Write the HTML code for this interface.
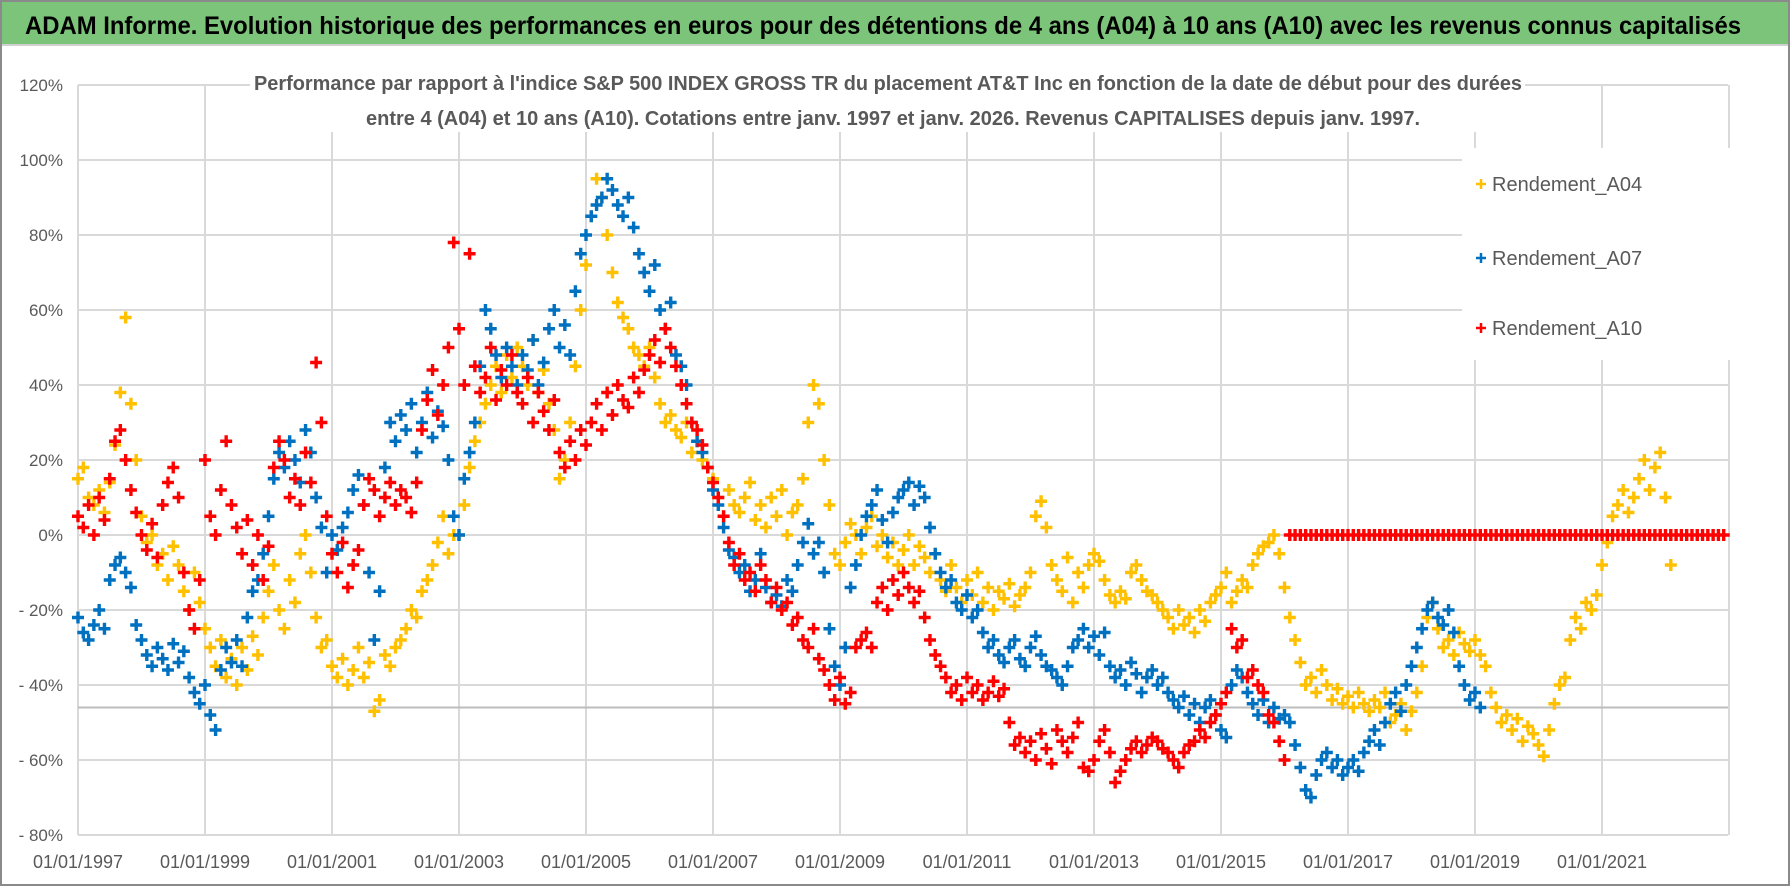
<!DOCTYPE html>
<html><head><meta charset="utf-8"><style>
html,body{margin:0;padding:0;background:#fff;}
svg{display:block;font-family:"Liberation Sans",sans-serif;}
</style></head><body>
<svg id="chart" width="1790" height="886" viewBox="0 0 1790 886">
<rect x="1" y="1" width="1788" height="884" fill="#fff" stroke="#8a8a8a" stroke-width="2"/>
<rect x="2" y="2" width="1786" height="42" fill="#7cc47a"/>
<line x1="2" y1="45" x2="1788" y2="45" stroke="#d0d0d0" stroke-width="2"/>
<text x="25" y="34" font-size="25" font-weight="bold" fill="#000" textLength="1716" lengthAdjust="spacingAndGlyphs">ADAM Informe. Evolution historique des performances en euros pour des détentions de 4 ans (A04) à 10 ans (A10) avec les revenus connus capitalisés</text>
<g id="grid"></g>
<g id="yticks"></g>
<g id="xticks"></g>
<g id="series"></g>
<rect x="250" y="66" width="1275" height="66" fill="#fff"/>
<text x="254" y="90" font-size="20" font-weight="bold" fill="#595959" textLength="1268" lengthAdjust="spacingAndGlyphs">Performance par rapport à l'indice S&amp;P 500 INDEX GROSS TR  du placement AT&amp;T Inc en fonction de la date de début pour des durées</text>
<text x="366" y="125" font-size="20" font-weight="bold" fill="#595959" textLength="1054" lengthAdjust="spacingAndGlyphs">entre 4 (A04) et 10 ans (A10).  Cotations entre janv. 1997 et janv. 2026. Revenus CAPITALISES depuis janv. 1997.</text>
<g>
<rect x="1462" y="148" width="305" height="212" fill="#fff"/>
<g><path d="M1476 184h10M1481 179v10" stroke="#ffc000" stroke-width="2.5"/><text x="1492" y="191" font-size="20" fill="#595959">Rendement_A04</text></g>
<g><path d="M1476 258h10M1481 253v10" stroke="#0070c0" stroke-width="2.5"/><text x="1492" y="265" font-size="20" fill="#595959">Rendement_A07</text></g>
<g><path d="M1476 328h10M1481 323v10" stroke="#ff0000" stroke-width="2.5"/><text x="1492" y="335" font-size="20" fill="#595959">Rendement_A10</text></g>
</g>
</svg>
<script>
const yTicks=[120,100,80,60,40,20,0,-20,-40,-60,-80];
const xTickYears=[1997,1999,2001,2003,2005,2007,2009,2011,2013,2015,2017,2019,2021];
const startYear=1997;
const refLineValue=-46;
const a04=[15,18,10,8,12,6,14,24,38,58,35,20,
5,-2,0,-8,-5,-12,-3,-8,-15,-20,-10,-18,
-25,-30,-35,-28,-38,-33,-40,-30,-36,-27,-32,-22,
-15,-8,-20,-25,-12,-18,-5,0,-10,-22,-30,-28,
-35,-38,-33,-40,-36,-30,-38,-34,-47,-44,-32,-35,
-30,-28,-25,-20,-22,-15,-12,-8,-2,5,-5,0,
0,8,18,25,30,35,40,45,38,48,42,50,
45,40,52,38,44,35,28,15,20,30,45,60,
72,85,95,90,80,70,62,58,55,50,48,45,
50,42,35,30,32,28,26,30,22,25,20,18,
15,10,5,12,8,6,10,14,4,8,2,10,
5,12,0,6,8,15,30,40,35,20,8,-5,
-8,-2,3,0,-5,2,5,-3,0,-6,-2,-8,
-4,0,-8,-3,-6,-10,-5,-12,-15,-8,-14,-18,
-12,-16,-10,-18,-14,-20,-15,-17,-13,-19,-16,-14,
-10,5,9,2,-8,-12,-15,-6,-18,-10,-14,-8,
-5,-7,-12,-16,-18,-15,-17,-10,-8,-12,-15,-16,
-18,-20,-22,-25,-20,-24,-22,-26,-20,-23,-18,-16,
-14,-10,-18,-15,-12,-14,-8,-5,-3,-2,0,-5,
-14,-22,-28,-34,-40,-38,-42,-36,-40,-44,-41,-45,
-43,-46,-42,-45,-47,-44,-46,-42,-50,-48,-45,-52,
-47,-42,-35,-22,-18,-25,-30,-28,-32,-26,-29,-31,
-28,-32,-35,-42,-46,-50,-48,-52,-49,-55,-51,-53,
-56,-59,-52,-45,-40,-38,-28,-22,-25,-18,-20,-16,
-8,-2,5,8,12,6,10,15,20,12,18,22,
10,-8];
const a07=[-22,-26,-28,-24,-20,-25,-12,-8,-6,-10,-14,-24,
-28,-32,-35,-30,-33,-36,-29,-34,-31,-38,-42,-45,
-40,-48,-52,-36,-30,-34,-28,-35,-22,-15,-12,-5,
5,15,22,18,25,20,14,28,22,10,2,-10,
0,-4,2,6,12,16,8,-10,-28,-15,18,30,
25,32,28,35,22,30,38,26,33,29,20,5,
0,15,22,30,45,60,55,48,42,50,45,40,
48,44,52,40,46,55,60,50,56,48,65,75,
80,85,88,90,95,92,88,85,90,82,75,70,
65,72,60,55,62,48,45,40,30,25,22,18,
12,8,2,-4,-6,-10,-8,-15,-12,-5,-14,-18,
-16,-19,-12,-15,-8,-2,3,-5,-2,-10,-25,-35,
-40,-30,-14,-8,0,5,8,12,4,-2,6,10,
12,14,8,13,10,2,-5,-10,-14,-12,-18,-20,
-16,-22,-20,-26,-30,-28,-32,-34,-30,-28,-33,-35,
-30,-27,-32,-35,-36,-38,-40,-35,-30,-28,-25,-30,
-27,-32,-26,-35,-38,-36,-40,-34,-37,-42,-38,-36,
-40,-38,-42,-44,-46,-43,-48,-45,-50,-46,-44,-48,
-52,-54,-40,-36,-38,-42,-45,-48,-44,-50,-46,-49,
-48,-50,-56,-62,-68,-70,-64,-60,-58,-62,-60,-64,
-62,-60,-63,-58,-55,-52,-56,-50,-45,-42,-47,-40,
-35,-30,-25,-20,-18,-22,-24,-20,-26,-35,-40,-44,
-42,-46];
const a10=[5,2,8,0,10,4,15,25,28,20,12,6,
0,-4,3,-6,8,14,18,10,-10,-20,-25,-12,
20,5,0,12,25,8,2,-5,4,-8,0,-12,
-3,18,25,20,10,15,8,22,14,46,30,5,
-5,-10,-2,-14,-8,-4,8,15,12,5,10,14,
8,12,10,6,14,28,36,44,32,40,50,78,
55,40,75,45,38,42,50,36,44,40,48,38,
35,42,30,38,33,28,36,22,18,25,20,28,
24,30,35,28,38,32,40,36,34,42,38,44,
48,52,46,55,50,45,40,35,30,28,24,18,
14,10,5,-2,-8,-5,-12,-10,-15,-8,-12,-18,
-14,-20,-18,-24,-22,-28,-30,-25,-33,-36,-40,-44,
-38,-45,-42,-30,-28,-26,-30,-18,-14,-20,-12,-16,
-10,-14,-18,-15,-22,-28,-32,-35,-38,-42,-40,-44,
-38,-42,-40,-44,-42,-39,-43,-41,-50,-56,-54,-58,
-55,-60,-53,-57,-61,-52,-55,-58,-54,-50,-62,-63,
-60,-55,-52,-58,-66,-63,-60,-57,-55,-58,-56,-54,
-55,-57,-58,-60,-62,-58,-56,-55,-52,-54,-50,-48,
-45,-42,-25,-30,-28,-38,-36,-40,-42,-48,-50,-55,
-60,0,0,0,0,0,0,0,0,0,0,0,
0,0,0,0,0,0,0,0,0,0,0,0,
0,0,0,0,0,0,0,0,0,0,0,0,
0,0,0,0,0,0,0,0,0,0,0,0,
0,0,0,0,0,0,0,0,0,0,0,0,
0,0,0,0,0,0,0,0,0,0,0,0,
0,0,0,0,0,0,0,0,0,0,0,0];

const NS="http://www.w3.org/2000/svg";
const X0=78,PXY=63.5,Y0=535,PXP=3.75,PLOT_R=1728,PLOT_T=85,PLOT_B=835;
function xs(year){return X0+(year-startYear)*PXY;}
function ys(v){return Y0-v*PXP;}
function mk(tag,attrs,parent){const e=document.createElementNS(NS,tag);for(const k in attrs)e.setAttribute(k,attrs[k]);parent.appendChild(e);return e;}
const grid=document.getElementById('grid');
yTicks.forEach(v=>{
  const l=mk('line',{x1:X0,x2:PLOT_R,y1:ys(v),y2:ys(v),stroke:'#d9d9d9','stroke-width':2},grid);
  
  
  const t=mk('text',{x:63,y:ys(v)+6,'text-anchor':'end','font-size':17,fill:'#595959'},document.getElementById('yticks'));
  t.textContent=(v<0?'- '+(-v):v)+'%';
  
  
});
for(let yr=startYear;yr<=2023;yr+=2){
  const l=mk('line',{x1:xs(yr),x2:xs(yr),y1:PLOT_T,y2:PLOT_B,stroke:'#d9d9d9','stroke-width':2},grid);
  
  
}
const rl=mk('line',{x1:X0,x2:PLOT_R,y1:ys(refLineValue),y2:ys(refLineValue),stroke:'#bdbdbd','stroke-width':2},grid);


xTickYears.forEach(yr=>{
  const t=mk('text',{x:xs(yr),y:868,'text-anchor':'middle','font-size':18,fill:'#595959'},document.getElementById('xticks'));
  t.textContent='01/01/'+yr;
  
  
});
const seriesLayer=document.getElementById('series');
function drawSeries(data,color,name){
  const g=mk('g',{},seriesLayer);
  
  
  let d='';
  data.forEach((v,i)=>{const x=xs(startYear+i/12),y=ys(v);d+='M'+(x-6)+' '+y+'h12M'+x+' '+(y-6)+'v12';});
  const p=mk('path',{d:d,stroke:color,'stroke-width':3.4,fill:'none'},g);
  
  
}
drawSeries(a04,'#ffc000','series-a04');
drawSeries(a07,'#0070c0','series-a07');
drawSeries(a10,'#ff0000','series-a10');
</script>
</body></html>
